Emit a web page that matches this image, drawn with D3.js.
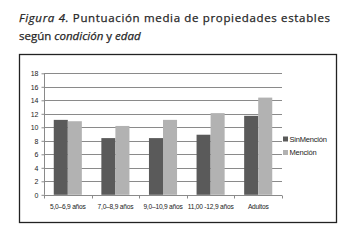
<!DOCTYPE html>
<html>
<head>
<meta charset="utf-8">
<script src="https://cdn.jsdelivr.net/npm/d3@7"></script>
<style>
  body { margin: 0; background: #fff; }
  text { font-family: "Open Sans", "Noto Sans", sans-serif; }
</style>
</head>
<body>
<div id="chart"></div>
<script>
// data
const categories = ["5,0–6,9 años", "7,0–8,9 años", "9,0–10,9 años", "11,00 -12,9 años", "Adultos"];
const seriesNames = ["Sin Mención", "Mención"];
const sinMencion = [11.1, 8.4, 8.4, 8.9, 11.7];
const mencion = [10.9, 10.2, 11.1, 12.1, 14.4];
const yTicks = [0, 2, 4, 6, 8, 10, 12, 14, 16, 18];

const W = 355, H = 249;
const colors = ["#5a5a5a", "#b2b2b2"];

const svg = d3.select("#chart").append("svg")
    .attr("width", W)
    .attr("height", H);

// title
const title = svg.append("g").attr("fill", "#262626").style("font-size", "11.5px")
    .attr("stroke", "#262626").attr("stroke-width", 0.25);
const t1 = title.append("text").attr("x", 19).attr("y", 22)
    .attr("textLength", 311).attr("lengthAdjust", "spacing");
t1.append("tspan").attr("font-style", "italic").text("Figura 4.");
t1.append("tspan").text(" Puntuación media de propiedades estables");
const t2 = title.append("text").attr("x", 19).attr("y", 40);
t2.append("tspan").text("según ");
t2.append("tspan").attr("font-style", "italic").text("condición");
t2.append("tspan").text(" y ");
t2.append("tspan").attr("font-style", "italic").text("edad");

// frame
svg.append("rect")
    .attr("x", 19.5).attr("y", 54.5)
    .attr("width", 317).attr("height", 168)
    .attr("fill", "none")
    .attr("stroke", "#222")
    .attr("stroke-width", 1.3);

const plot = { left: 44, right: 282, top: 73.3, bottom: 194.8 };

const y = d3.scaleLinear().domain([0, 18]).range([plot.bottom, plot.top]);
const x = d3.scaleBand().domain(categories)
    .range([plot.left, plot.right])
    .paddingInner(0.41).paddingOuter(0.205);
const xs = d3.scaleBand().domain(seriesNames).range([0, x.bandwidth()]);

// gridlines
svg.append("g")
    .selectAll("line")
    .data(yTicks.filter(d => d > 0))
    .join("line")
    .attr("x1", plot.left).attr("x2", plot.right)
    .attr("y1", d => Math.round(y(d)) + 0.5).attr("y2", d => Math.round(y(d)) + 0.5)
    .attr("stroke", "#8a8a8a").attr("stroke-width", 1);

// bars
const rows = categories.map((c, i) => ({ cat: c, vals: [sinMencion[i], mencion[i]] }));
svg.append("g")
    .selectAll("g")
    .data(rows)
    .join("g")
    .attr("transform", d => `translate(${x(d.cat)},0)`)
    .selectAll("rect")
    .data(d => d.vals.map((v, j) => ({ name: seriesNames[j], v: v, j: j })))
    .join("rect")
    .attr("x", d => xs(d.name))
    .attr("y", d => y(d.v))
    .attr("width", xs.bandwidth())
    .attr("height", d => y(0) - y(d.v))
    .attr("fill", d => colors[d.j]);

// Y axis
const yAxis = svg.append("g")
    .attr("transform", `translate(${plot.left + 0.5},0)`)
    .call(d3.axisLeft(y).tickValues(yTicks).tickSize(3).tickPadding(3).tickFormat(d3.format("d")));
yAxis.selectAll("path, line").attr("stroke", "#8a8a8a");
yAxis.selectAll("text").attr("fill", "#222").style("font-size", "7px").style("font-family", "Liberation Sans, Arial, sans-serif");
yAxis.select(".domain").attr("d", `M0,${plot.top}V${plot.bottom}`);

// X axis with ticks at category boundaries
const xAxis = svg.append("g")
    .attr("transform", `translate(0,${Math.round(plot.bottom) + 0.5})`);
xAxis.append("line")
    .attr("x1", plot.left).attr("x2", plot.right)
    .attr("stroke", "#8a8a8a");
const bounds = d3.range(categories.length + 1).map(i => plot.left + i * x.step());
xAxis.selectAll(".tk")
    .data(bounds)
    .join("line")
    .attr("class", "tk")
    .attr("x1", d => Math.round(d) + 0.5).attr("x2", d => Math.round(d) + 0.5)
    .attr("y1", 0).attr("y2", 3)
    .attr("stroke", "#8a8a8a");
xAxis.selectAll(".lbl")
    .data(categories)
    .join("text")
    .attr("class", "lbl")
    .attr("x", d => x(d) + x.bandwidth() / 2)
    .attr("y", 13)
    .attr("text-anchor", "middle")
    .attr("fill", "#222")
    .style("font-size", "6.6px")
    .style("font-family", "Liberation Sans, Arial, sans-serif")
    .attr("letter-spacing", "-0.2")
    .text(d => d);

// legend
const legend = svg.append("g").attr("transform", "translate(283,139)");
const li = legend.selectAll("g")
    .data(seriesNames)
    .join("g")
    .attr("transform", (d, i) => `translate(0,${i * 13.5})`);
li.append("rect")
    .attr("x", 0).attr("y", -2.5)
    .attr("width", 5).attr("height", 5)
    .attr("fill", (d, i) => colors[i]);
li.append("text")
    .attr("x", 6.5).attr("y", 2.5)
    .attr("fill", "#222")
    .style("font-size", "7.5px")
    .style("font-family", "Liberation Sans, Arial, sans-serif")
    .attr("letter-spacing", "-0.2")
    .text((d, i) => i === 0 ? "SinMención" : d);
</script>
</body>
</html>
